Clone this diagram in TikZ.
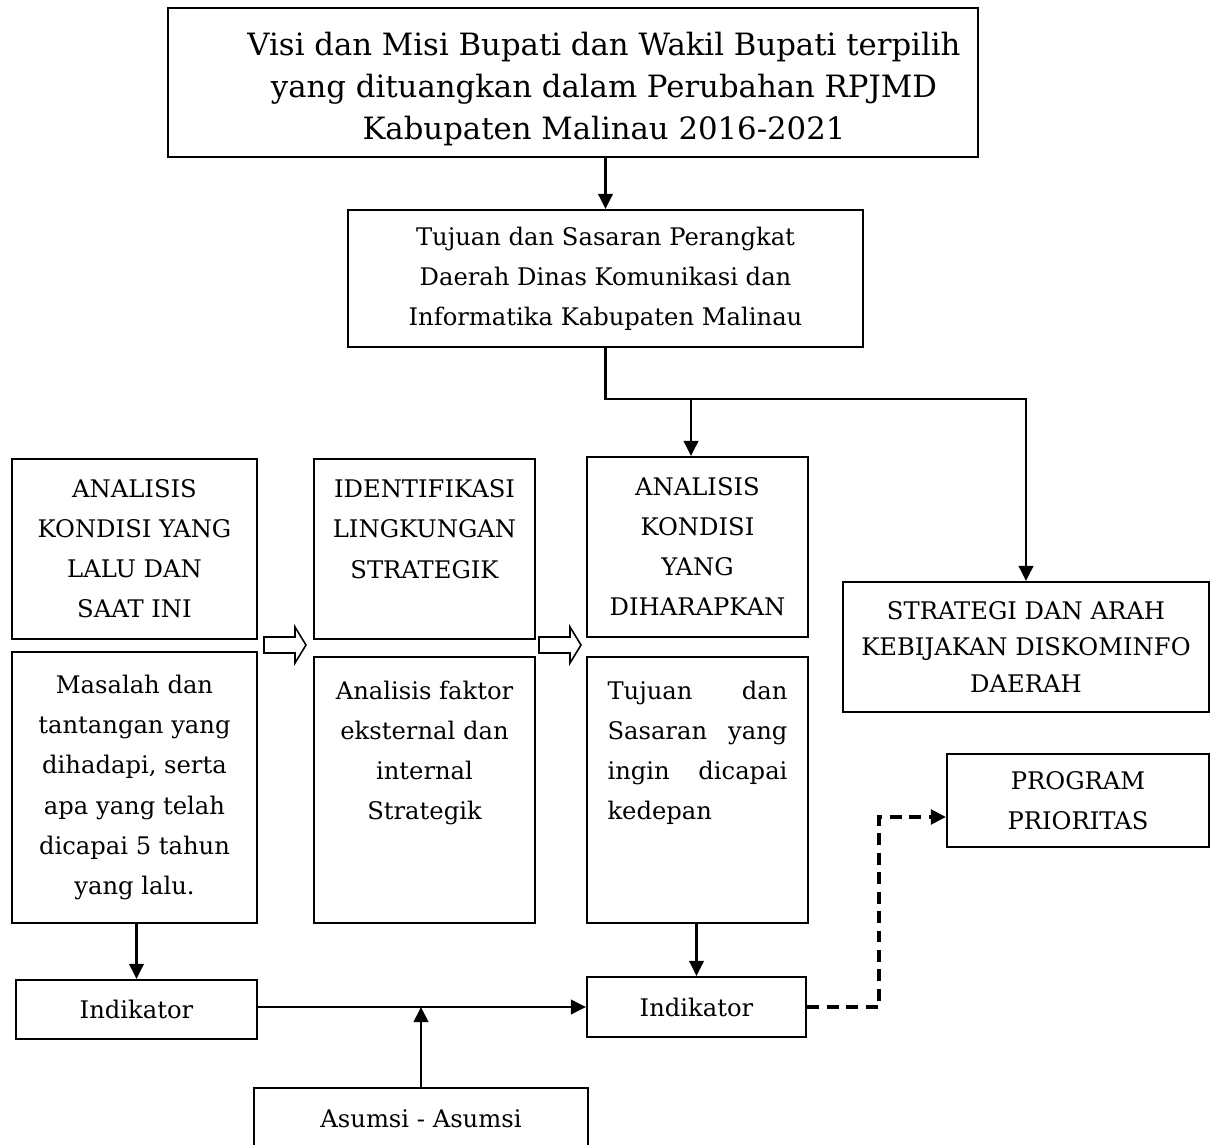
\documentclass[tikz,border=0pt]{standalone}
\usepackage{fontspec}
\setmainfont{DejaVu Serif}
\usetikzlibrary{arrows.meta}

\begin{document}
\begin{tikzpicture}[x=0.02cm, y=-0.02cm, line width=1.2pt,
        box/.style={draw, align=center, inner sep=0pt, font=\fontsize{13.8}{22.8}\selectfont},
        >={Triangle[length=0.3cm, width=0.29cm]}]
    \useasboundingbox (0,0) rectangle (1211,1145);
    \clip (0,0) rectangle (1211,1145);
    % Top
    \node[box, minimum width=16.2cm, minimum height=2.98cm] (visi) at (573,82.5) {};
    \node[align=center, inner sep=0pt, font=\fontsize{17.5}{24}\selectfont] (visitext) at (604,89)
        {Visi dan Misi Bupati dan Wakil Bupati terpilih\\ yang dituangkan dalam Perubahan RPJMD\\ Kabupaten Malinau 2016-2021};
    \node[box, minimum width=10.3cm, minimum height=2.74cm] (tujuan) at (605.5,278.5)
        {Tujuan dan Sasaran Perangkat\\ Daerah Dinas Komunikasi dan\\ Informatika Kabupaten Malinau};
    % Analysis columns
    \node[box, minimum width=4.9cm, minimum height=3.6cm] (lalu) at (134.5,549)
        {ANALISIS\\ KONDISI YANG\\ LALU DAN\\ SAAT INI};
    \node[box, minimum width=4.9cm, minimum height=5.42cm] (masalah) at (134.5,787.5)
        {Masalah dan\\ tantangan yang\\ dihadapi, serta\\ apa yang telah\\ dicapai 5 tahun\\ yang lalu.};
    \node[box, minimum width=4.42cm, minimum height=3.6cm] (lingkungan) at (424.5,549)
        {IDENTIFIKASI\\ LINGKUNGAN\\ STRATEGIK\\ ~};
    \node[box, minimum width=4.42cm, minimum height=5.32cm] (faktor) at (424.5,790)
        {Analisis faktor\\ eksternal dan\\ internal\\ Strategik\\ ~\\ ~};
    \node[box, minimum width=4.42cm, minimum height=3.6cm] (harapan) at (697.5,547)
        {ANALISIS\\ KONDISI\\ YANG\\ DIHARAPKAN};
    \node[box, align=left, text width=3.6cm, minimum width=4.42cm, minimum height=5.32cm] (sasaran) at (697.5,790)
        {Tujuan\hfill dan\\ Sasaran\hfill yang\\ ingin\hfill dicapai\\ kedepan\\ ~\\ ~};
    % Right side
    \node[box, minimum width=7.32cm, minimum height=2.6cm, font=\fontsize{13.8}{20.5}\selectfont] (strategi) at (1026,647)
        {STRATEGI DAN ARAH\\ KEBIJAKAN DISKOMINFO\\ DAERAH};
    \node[box, minimum width=5.24cm, minimum height=1.86cm] (prioritas) at (1078,800.5)
        {PROGRAM\\ PRIORITAS};
    % Indicators
    \node[box, minimum width=4.82cm, minimum height=1.18cm] (indikatorA) at (136.5,1009.5) {Indikator};
    \node[box, minimum width=4.38cm, minimum height=1.2cm] (indikatorB) at (696.5,1007) {Indikator};
    \node[box, minimum width=6.68cm, minimum height=1.24cm] (asumsi) at (421,1119) {Asumsi - Asumsi};
    % Connectors
    \coordinate (split) at (605.5,399);
    \coordinate (branch) at (691,399);
    \coordinate (bend) at (879,817);
    \draw[->] (visi.south -| tujuan.north) -- (tujuan.north);
    \draw[->] (tujuan.south) -- (split) -| (strategi.north);
    \draw[->] (branch) -- (branch |- harapan.north);
    \draw[->] (indikatorA.north |- masalah.south) -- (indikatorA.north);
    \draw[->] (indikatorB.north |- sasaran.south) -- (indikatorB.north);
    \draw[->] (indikatorA.east |- indikatorB.west) -- (indikatorB.west);
    \draw[->] (asumsi.north) -- (asumsi.north |- indikatorB.west);
    \draw[->, line width=2pt, dash pattern=on 0.24cm off 0.15cm]
        (indikatorB.east) -| (bend) -- (bend -| prioritas.west);
    % Hollow arrows
    \foreach \x in {264, 539}
    {
        \draw[line width=0.9pt]
            (\x,637) -- ++(31,0) -- ++(0,-10) -- ++(11,18) -- ++(-11,18) -- ++(0,-10) -- ++(-31,0) -- cycle;
    }
\end{tikzpicture}
\end{document}
